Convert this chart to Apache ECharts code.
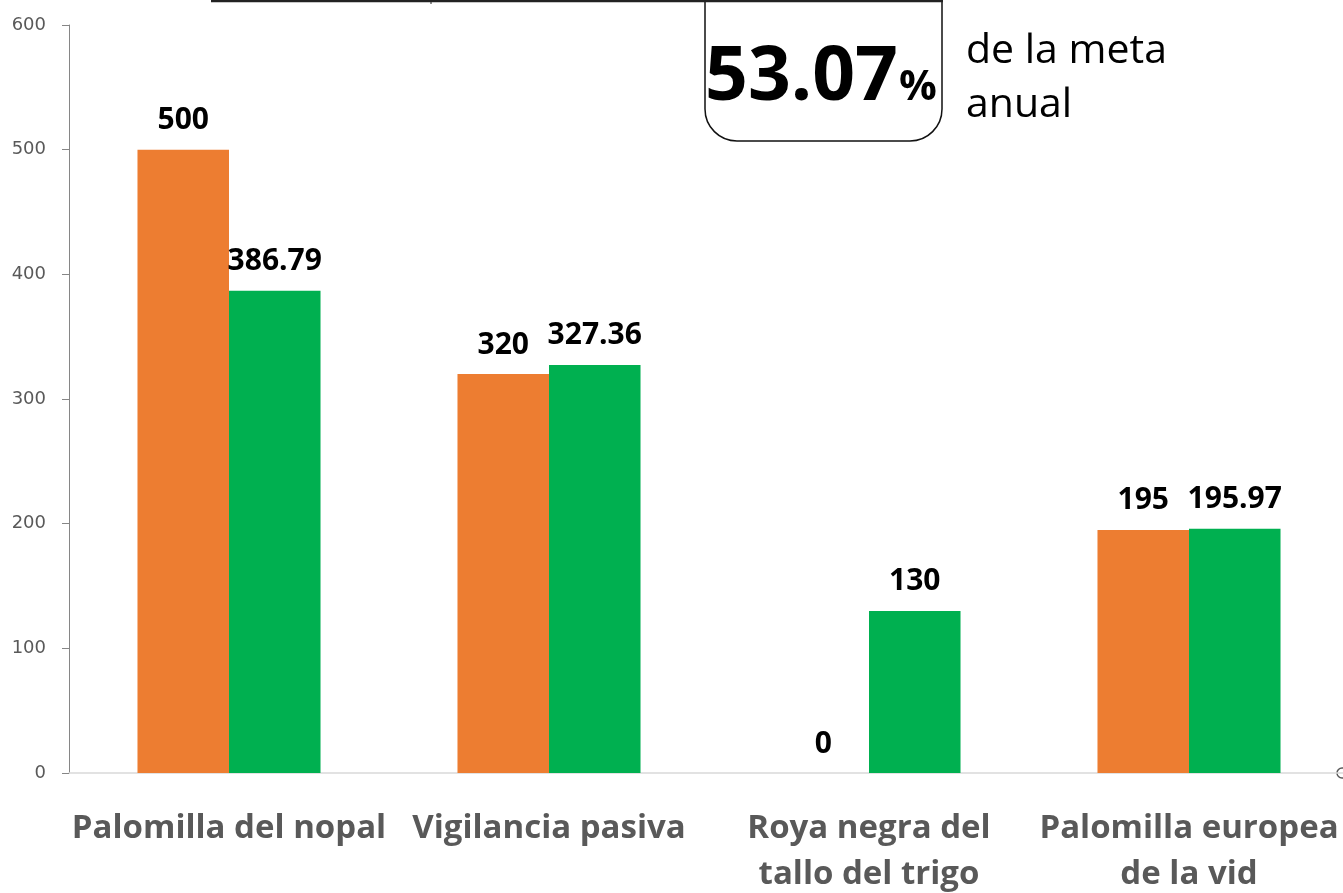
<!DOCTYPE html>
<html>
<head>
<meta charset="utf-8">
<script src="https://cdn.jsdelivr.net/npm/echarts@6/dist/echarts.min.js"></script>
<style>
html,body{margin:0;padding:0;background:#fff;}
#chart{width:1343px;height:893px;}
</style>
</head>
<body>
<div id="chart"></div>
<script>
const categories = ['Palomilla del nopal', 'Vigilancia pasiva', 'Roya negra del\ntallo del trigo', 'Palomilla europea\nde la vid'];
const metaValues = [500, 320, 0, 195];
const avanceValues = [386.79, 327.36, 130, 195.97];
const yTicks = { min: 0, max: 600, interval: 100 };
const percentText = '53.07';

const chart = echarts.init(document.getElementById('chart'), null, { renderer: 'canvas' });

const labelStyle = {
  show: true,
  position: 'top',
  distance: 14,
  color: '#000',
  fontFamily: 'Open Sans',
  fontWeight: 'bold',
  fontSize: 30,
  formatter: p => String(p.value)
};

chart.setOption({
  animation: false,
  backgroundColor: '#fff',
  grid: { left: 69, right: -6, top: 25, bottom: 120, containLabel: false, outerBoundsMode: 'none' },
  xAxis: {
    type: 'category',
    data: categories,
    axisLine: { show: true, lineStyle: { color: '#d9d9d9', width: 1.5 } },
    axisTick: { show: false },
    axisLabel: {
      interval: 0,
      margin: 33,
      color: '#595959',
      fontFamily: 'Open Sans',
      fontWeight: 'bold',
      fontSize: 33,
      lineHeight: 46
    }
  },
  yAxis: {
    type: 'value',
    min: yTicks.min,
    max: yTicks.max,
    interval: yTicks.interval,
    splitLine: { show: false },
    axisLine: { show: true, lineStyle: { color: '#868686', width: 1 } },
    axisTick: { show: true, inside: false, length: 7, lineStyle: { color: '#868686' } },
    axisLabel: {
      margin: 23,
      color: '#595959',
      fontFamily: 'DejaVu Sans',
      fontSize: 18
    }
  },
  series: [
    {
      name: 'Meta',
      type: 'bar',
      data: metaValues,
      barGap: '0%',
      barCategoryGap: '42.8%',
      itemStyle: { color: '#ed7d31' },
      label: labelStyle
    },
    {
      name: 'Avance',
      type: 'bar',
      data: avanceValues,
      barGap: '0%',
      barCategoryGap: '42.8%',
      itemStyle: { color: '#00b050' },
      label: labelStyle
    }
  ],
  graphic: [
    {
      type: 'rect',
      shape: { x: 705, y: -10, width: 237, height: 151, r: [0, 0, 32, 32] },
      style: { fill: 'none', stroke: '#111', lineWidth: 1.5 }
    },
    { type: 'line', shape: { x1: 211, y1: 1, x2: 943, y2: 1 }, style: { stroke: '#222', lineWidth: 2.5 } },
    { type: 'line', shape: { x1: 431, y1: 0, x2: 431, y2: 4 }, style: { stroke: '#222', lineWidth: 1 } },
    {
      type: 'text',
      x: 705, y: 116,
      style: { text: percentText, fill: '#000', font: 'bold 75px "Open Sans"', verticalAlign: 'bottom' }
    },
    {
      type: 'text',
      x: 899, y: 109,
      style: { text: '%', fill: '#000', font: 'bold 42px "Open Sans"', verticalAlign: 'bottom' }
    },
    {
      type: 'text',
      x: 966, y: 72,
      style: { text: 'de la meta', fill: '#000', font: '41px "Open Sans"', verticalAlign: 'bottom' }
    },
    {
      type: 'text',
      x: 966, y: 126,
      style: { text: 'anual', fill: '#000', font: '41px "Open Sans"', verticalAlign: 'bottom' }
    },
    {
      type: 'circle',
      shape: { cx: 1342, cy: 773, r: 5 },
      style: { fill: 'none', stroke: '#595959', lineWidth: 1.5 }
    }
  ]
});
</script>
</body>
</html>
